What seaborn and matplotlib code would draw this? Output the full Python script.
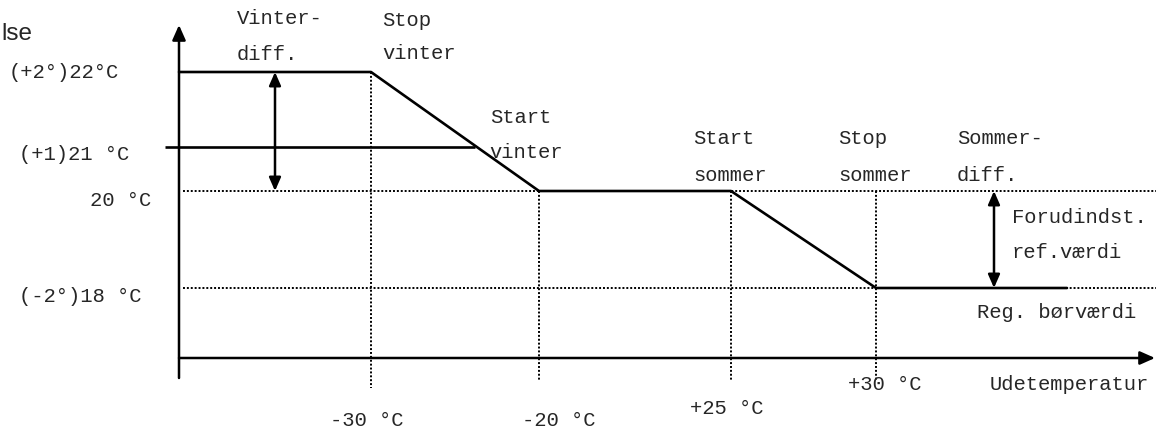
import matplotlib
matplotlib.use("Agg")
import pandas as pd
import seaborn as sns
import matplotlib.pyplot as plt

# skematisk diagram: positioner langs akserne (ikke lineær skala)
outdoor_labels = ["-30 °C", "-20 °C", "+25 °C", "+30 °C"]
outdoor_pos = [371, 539, 731, 876]
level_labels = ["(+2°)22°C", "(+1)21 °C", "20 °C", "(-2°)18 °C"]
level_pos = [72, 147, 191, 288]
axis_x0, axis_y0 = 179, 358
curve_end = 1067

sns.set_theme(style="white")
plt.rcParams['font.family'] = ['Liberation Mono', 'DejaVu Sans Mono']

fig = plt.figure(figsize=(11.66, 4.28), dpi=100)
ax = fig.add_axes([0, 0, 1, 1])

# reguleringskurve
curve = pd.DataFrame({
    "x": [axis_x0, outdoor_pos[0], outdoor_pos[1], outdoor_pos[2], outdoor_pos[3], curve_end],
    "y": [level_pos[0], level_pos[0], level_pos[2], level_pos[2], level_pos[3], level_pos[3]],
})
sns.lineplot(data=curve, x="x", y="y", sort=False, color="black", lw=1.9, ax=ax)

# (+1)21 linje
ax.hlines(level_pos[1], 165, 475, color="black", lw=1.9)

# prikkede hjælpelinjer
dot = (0, (1, 1))
ax.hlines([level_pos[2], level_pos[3]], axis_x0 + 4, 1156, color="black", lw=1.4, linestyles=dot)
ax.vlines(outdoor_pos[0], level_pos[0], 388, color="black", lw=1.4, linestyles=dot)
ax.vlines(outdoor_pos[1:], level_pos[2], 380, color="black", lw=1.4, linestyles=dot)

# akser med pile
ax.annotate("", xy=(axis_x0, 25), xytext=(axis_x0, 378),
            arrowprops=dict(arrowstyle="-|>,head_length=0.9,head_width=0.4", lw=1.8,
                            color="black", shrinkA=0, shrinkB=0, mutation_scale=10))
ax.annotate("", xy=(1155, axis_y0), xytext=(axis_x0, axis_y0),
            arrowprops=dict(arrowstyle="-|>,head_length=0.9,head_width=0.4", lw=1.8,
                            color="black", shrinkA=0, shrinkB=0, mutation_scale=10))

# differens-pile
ax.annotate("", xy=(275, level_pos[0]), xytext=(275, level_pos[2]),
            arrowprops=dict(arrowstyle="<|-|>,head_length=0.8,head_width=0.35", lw=1.8,
                            color="black", shrinkA=0, shrinkB=0, mutation_scale=10))
ax.annotate("", xy=(994, level_pos[2]), xytext=(994, level_pos[3]),
            arrowprops=dict(arrowstyle="<|-|>,head_length=0.8,head_width=0.35", lw=1.8,
                            color="black", shrinkA=0, shrinkB=0, mutation_scale=10))

fs = 14.8
# y-etiketter
for lab, x, y in zip(level_labels, [9, 19, 90, 19], [72, 155, 200, 297]):
    ax.text(x, y, lab, fontsize=fs, ha="left", va="center")

# x-etiketter
for lab, x, y in zip(outdoor_labels, [330, 522, 690, 848], [420, 420, 408, 385]):
    ax.text(x, y, lab, fontsize=fs, ha="left", va="center")
ax.text(990, 385, "Udetemperatur", fontsize=fs, ha="left", va="center")

# øvrige tekster
notes = [("Vinter-", 237, 18), ("diff.", 237, 54),
         ("Stop", 382, 20), ("vinter", 382, 53),
         ("Start", 490, 117), ("vinter", 489, 152),
         ("Start", 693, 139), ("sommer", 693, 175),
         ("Stop", 838, 139), ("sommer", 838, 175),
         ("Sommer-", 957, 139), ("diff.", 957, 175),
         ("Forudindst.", 1012, 217), ("ref.værdi", 1012, 252),
         ("Reg. børværdi", 977, 312)]
for txt, x, y in notes:
    ax.text(x, y, txt, fontsize=fs, ha="left", va="center")

ax.text(1, 34, "lse", fontsize=17.5, family=["Liberation Sans", "DejaVu Sans"],
        ha="left", va="center")

ax.set_xlim(0, 1166)
ax.set_ylim(428, 0)
ax.axis("off")

fig.savefig("out.png", dpi=100, facecolor="white")
